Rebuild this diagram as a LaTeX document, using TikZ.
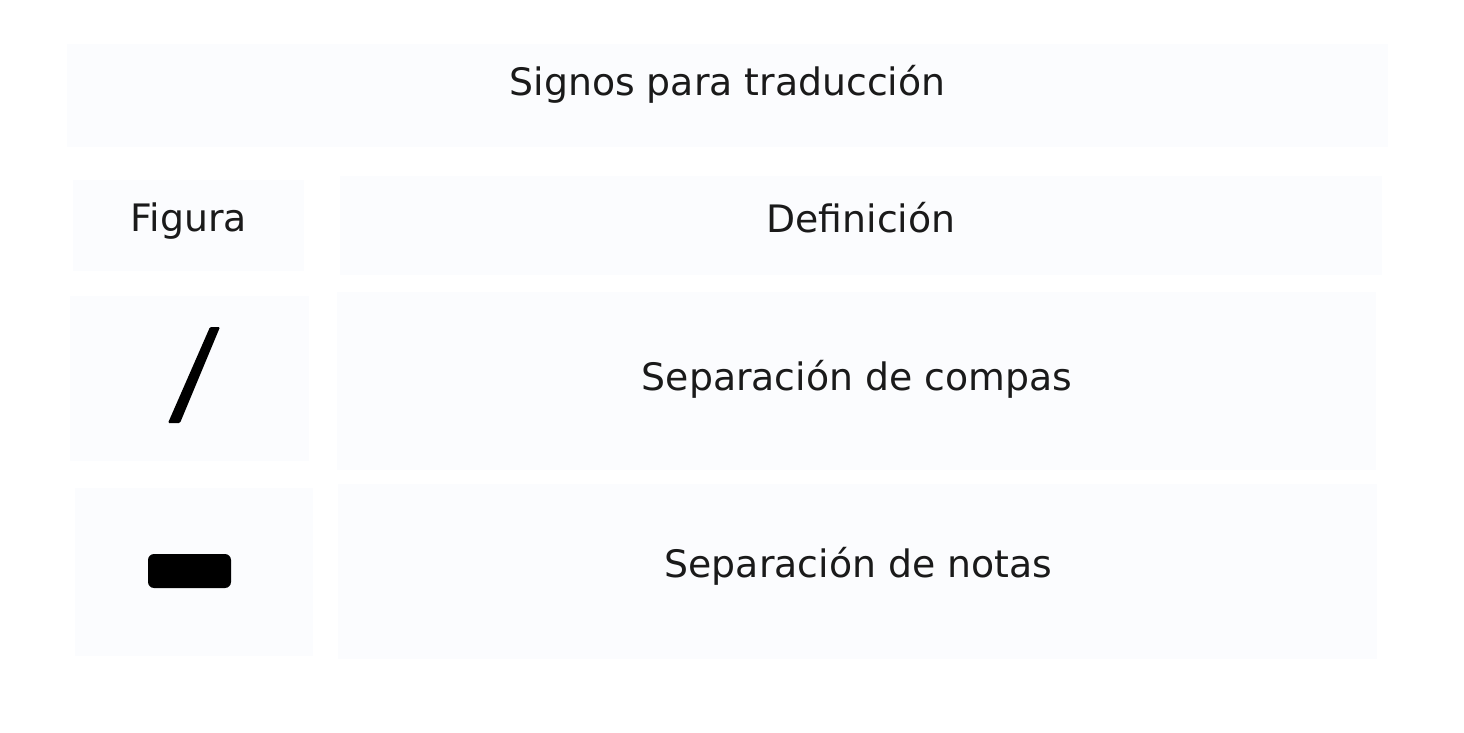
\documentclass[tikz,border=0pt]{standalone}
\usepackage{fontspec}
\setmainfont{DejaVu Sans}
\usepackage{xcolor}
\usetikzlibrary{positioning}
\definecolor{cellbg}{RGB}{251,252,254}
\definecolor{ink}{RGB}{26,26,26}
\tikzset{
    cell/.style={rectangle, fill=cellbg, draw=none, inner sep=0pt},
    txt/.style={text=ink, anchor=base, inner sep=0pt, font=\fontsize{18.9}{22}\selectfont}
}

\begin{document}
\begin{tikzpicture}[x=0.5pt, y=-0.5pt]
                        \useasboundingbox (0, 0) rectangle (1464, 733);

                        \node[cell, minimum width=660.5pt, minimum height=51.5pt] (titulo) at (727.5, 95.5) {};
                        \node[cell, minimum width=115.5pt, minimum height=45.5pt] (figura) at (188.5, 225.5) {};
                        \node[cell, minimum width=521pt, minimum height=49.5pt] (definicion) at (861, 225.5) {};
                        \node[cell, minimum width=119.5pt, minimum height=82.5pt] (figA) at (189.5, 378.5) {};
                        \node[cell, minimum width=519.5pt, minimum height=89pt] (defA) at (856.5, 381) {};
                        \node[cell, minimum width=119pt, minimum height=84pt] (figB) at (194, 572) {};
                        \node[cell, minimum width=519.5pt, minimum height=87.5pt] (defB) at (857.5, 571.5) {};

                        \node[txt] (tituloT) at (727.5, 96) {Signos para traducción};
                        \node[txt] (figuraT) at (189, 232) {Figura};
                        \node[txt] (definicionT) at (861, 233) {Definición};
                        \node[txt] (defAT) at (857, 390) {Separación de compas};
                        \node[txt] (defBT) at (858.5, 577) {Separación de notas};

                        % signos
                        \fill[black, rounded corners=0.6pt] (210, 327) -- (220, 327) -- (180, 423) -- (168, 423) -- cycle;
                        \fill[black, rounded corners=3pt] (148, 554) rectangle (231, 588);
                    \end{tikzpicture}
\end{document}
